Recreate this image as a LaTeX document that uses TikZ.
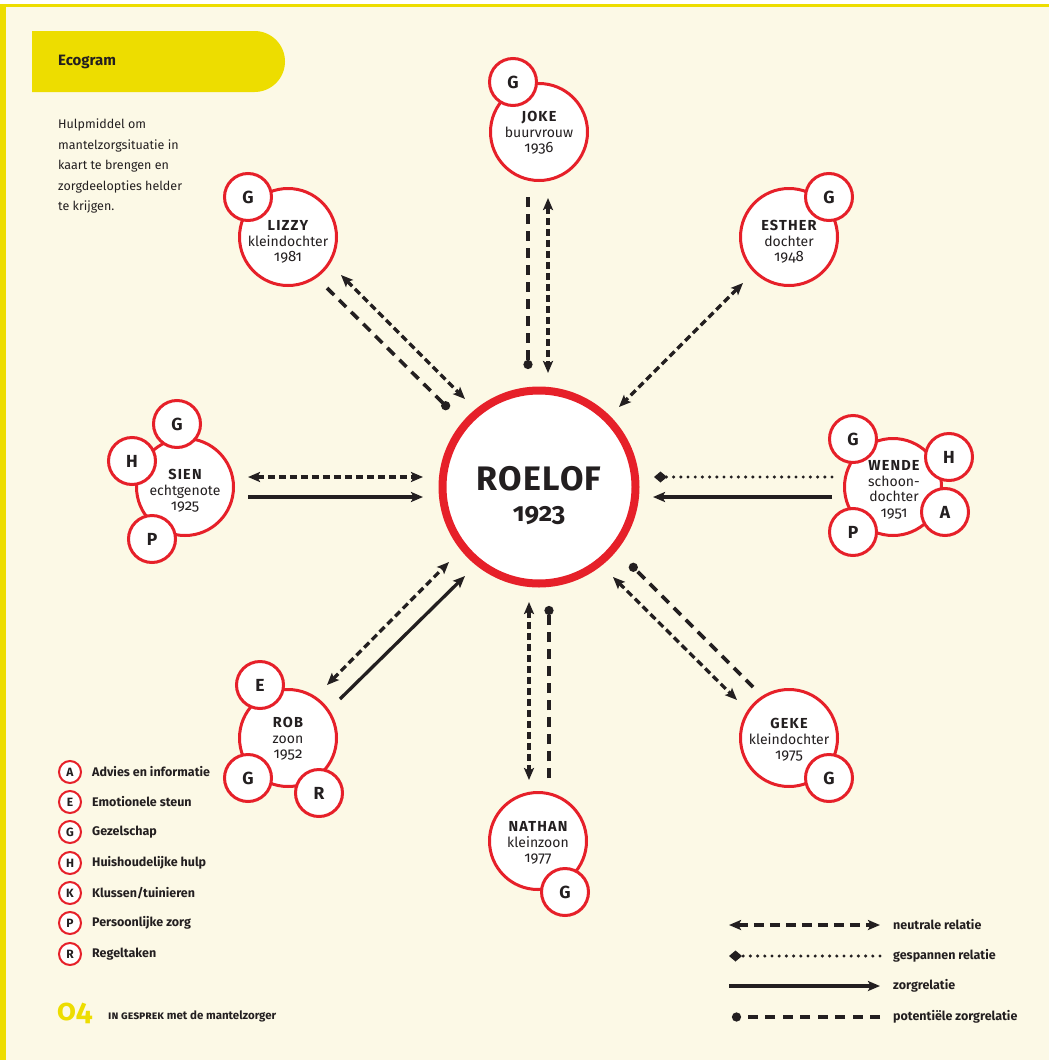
\documentclass[tikz,border=0pt]{standalone}
\usepackage{fontspec}
\setmainfont{Fira Sans}[Numbers=OldStyle]
\usetikzlibrary{arrows.meta,shapes.misc}
\definecolor{ecored}{RGB}{230,32,41}
\definecolor{ecoyel}{RGB}{237,221,0}
\definecolor{ecobg}{RGB}{252,249,230}
\definecolor{ecoink}{RGB}{35,31,32}
\tikzset{
  ntip/.tip={Stealth[length=12pt,width=10pt,inset=2.5pt]},
  dtip/.tip={Circle[length=9pt,sep=3pt]},
  rtip/.tip={Diamond[length=13pt,width=11pt]},
  person/.style={circle,draw=ecored,fill=white,line width=3pt,minimum size=97pt,inner sep=0pt},
  task/.style={circle,draw=ecored,fill=white,line width=3pt,minimum size=47pt,inner sep=0pt,
    text=ecoink,font=\fontsize{17.5}{17.5}\selectfont\bfseries},
  legtask/.style={circle,draw=ecored,fill=white,line width=2pt,minimum size=22pt,inner sep=0pt,
    text=ecoink,font=\fontsize{12}{12}\selectfont\bfseries},
  ptext/.style={align=center,text=ecoink,inner sep=0pt,font=\fontsize{14}{15.5}\selectfont},
  legtext/.style={anchor=west,text=ecoink,inner sep=0pt,font=\fontsize{12.5}{14}\selectfont\bfseries},
  neutral/.style={draw=ecoink,line width=3.3pt,dash pattern=on 7pt off 4pt,ntip-ntip},
  potential/.style={draw=ecoink,line width=3.6pt,dash pattern=on 10pt off 7pt,-dtip},
  care/.style={draw=ecoink,line width=3.3pt,-ntip},
  tense/.style={draw=ecoink,line width=3.4pt,line cap=round,dash pattern=on 0pt off 7.2pt,-rtip},
}
\newcommand{\pname}[1]{{\fontsize{14.5}{15.5}\selectfont\bfseries\addfontfeature{LetterSpace=8}#1}}
\newcommand{\pyear}[1]{{\fontsize{15}{15.5}\selectfont#1}}
\begin{document}
\begin{tikzpicture}[x=1pt,y=-1pt]
\useasboundingbox (0,0) rectangle (1049,1060);
% background and frame
\fill[ecobg] (0,0) rectangle (1049,1060);
\fill[white] (0,0) rectangle (1049,4);
\fill[ecoyel] (0,4) rectangle (1049,7.3);
\fill[ecoyel] (0,4) rectangle (6,1060);
% header
\node[rounded rectangle,rounded rectangle west arc=none,fill=ecoyel,minimum width=253pt,minimum height=61pt,inner sep=0pt] (header) at (158.5,61.5) {};
\node[anchor=west,inner sep=0pt,text=ecoink,font=\fontsize{15}{15}\selectfont\bfseries] (title) at (58,62) {Ecogram};
\node[anchor=north west,align=left,inner sep=0pt,text=ecoink,font=\fontsize{12.5}{20.5}\selectfont] (intro) at (58,119)
  {Hulpmiddel om\\mantelzorgsituatie in\\kaart te brengen en\\zorgdeelopties helder\\te krijgen.};

% centre
\node[circle,draw=ecored,fill=white,line width=8pt,minimum size=193pt,inner sep=0pt] (roelof) at (539,487) {};
\node[inner sep=0pt,text=ecoink,font=\fontsize{34}{34}\selectfont\bfseries\addfontfeature{LetterSpace=4}] (roelofname) at (539,479) {ROELOF};
\node[inner sep=0pt,text=ecoink,font=\fontsize{26}{26}\selectfont\bfseries] (roelofyear) at (539,516) {1923};

% persons
\node[person] (joke) at (539,132) {};
\node[task] (jokeG) at (513,82) {G};
\node[ptext] (joketext) at (539,133) {\pname{JOKE}\\buurvrouw\\\pyear{1936}};

\node[person] (lizzy) at (288,237) {};
\node[task] (lizzyG) at (248,197) {G};
\node[ptext] (lizzytext) at (288,242) {\pname{LIZZY}\\kleindochter\\\pyear{1981}};

\node[person] (esther) at (789,237) {};
\node[task] (estherG) at (829,197) {G};
\node[ptext] (esthertext) at (789,242) {\pname{ESTHER}\\dochter\\\pyear{1948}};

\node[person] (wende) at (893,487) {};
\node[task] (wendeG) at (853,439) {G};
\node[task] (wendeH) at (949,457) {H};
\node[task] (wendeA) at (945,512) {A};
\node[task] (wendeP) at (853,532) {P};
\node[ptext] (wendetext) at (894,490) {\pname{WENDE}\\schoon-\\dochter\\\pyear{1951}};

\node[person] (sien) at (185,487) {};
\node[task] (sienG) at (177,424) {G};
\node[task] (sienH) at (132,461) {H};
\node[task] (sienP) at (152,539) {P};
\node[ptext] (sientext) at (185,491) {\pname{SIEN}\\echtgenote\\\pyear{1925}};

\node[person] (rob) at (288,738) {};
\node[task] (robE) at (260,685) {E};
\node[task] (robG) at (248,778) {G};
\node[task] (robR) at (319,793) {R};
\node[ptext] (robtext) at (288,739) {\pname{ROB}\\zoon\\\pyear{1952}};

\node[person] (nathan) at (538,841) {};
\node[task] (nathanG) at (565,892) {G};
\node[ptext] (nathantext) at (538,843) {\pname{NATHAN}\\kleinzoon\\\pyear{1977}};

\node[person] (geke) at (789,738) {};
\node[task] (gekeG) at (829,778) {G};
\node[ptext] (geketext) at (789,740) {\pname{GEKE}\\kleindochter\\\pyear{1975}};

% connector end points
\coordinate (jokePa) at (528,197);   \coordinate (jokePb) at (528,372);
\coordinate (jokeNa) at (548,198);   \coordinate (jokeNb) at (548,373);
\coordinate (lizzyPa) at (327,288);  \coordinate (lizzyPb) at (451,411);
\coordinate (lizzyNa) at (341,275);  \coordinate (lizzyNb) at (465,399);
\coordinate (estherNa) at (743,283); \coordinate (estherNb) at (619,407);
\coordinate (wendeTa) at (832,477);  \coordinate (wendeTb) at (654,477);
\coordinate (wendeCa) at (832,497);  \coordinate (wendeCb) at (653,497);
\coordinate (sienNa) at (248,477);   \coordinate (sienNb) at (423,477);
\coordinate (sienCa) at (248,497);   \coordinate (sienCb) at (423,497);
\coordinate (robNa) at (327,685);    \coordinate (robNb) at (449,562);
\coordinate (robCa) at (340,699);    \coordinate (robCb) at (465,576);
\coordinate (nathanNa) at (529,602); \coordinate (nathanNb) at (529,780);
\coordinate (nathanPa) at (549,778); \coordinate (nathanPb) at (549,603);
\coordinate (gekePa) at (753,687);   \coordinate (gekePb) at (628,562);
\coordinate (gekeNa) at (613,577);   \coordinate (gekeNb) at (737,700);

% connectors
\draw[potential] (jokePa) -- (jokePb);
\draw[neutral] (jokeNa) -- (jokeNb);
\draw[potential] (lizzyPa) -- (lizzyPb);
\draw[neutral] (lizzyNa) -- (lizzyNb);
\draw[neutral] (estherNa) -- (estherNb);
\draw[tense] (wendeTa) -- (wendeTb);
\draw[care] (wendeCa) -- (wendeCb);
\draw[neutral] (sienNa) -- (sienNb);
\draw[care] (sienCa) -- (sienCb);
\draw[neutral] (robNa) -- (robNb);
\draw[care] (robCa) -- (robCb);
\draw[neutral] (nathanNa) -- (nathanNb);
\draw[potential] (nathanPa) -- (nathanPb);
\draw[potential] (gekePa) -- (gekePb);
\draw[neutral] (gekeNa) -- (gekeNb);

% legend left
\node[legtask] (legA) at (70,772) {A}; \node[legtext] (legAt) at (92,772) {Advies en informatie};
\node[legtask] (legE) at (70,802) {E}; \node[legtext] (legEt) at (92,802) {Emotionele steun};
\node[legtask] (legG) at (70,832) {G}; \node[legtext] (legGt) at (92,832) {Gezelschap};
\node[legtask] (legH) at (70,863) {H}; \node[legtext] (legHt) at (92,863) {Huishoudelijke hulp};
\node[legtask] (legK) at (70,893) {K}; \node[legtext] (legKt) at (92,893) {Klussen/tuinieren};
\node[legtask] (legP) at (70,923) {P}; \node[legtext] (legPt) at (92,923) {Persoonlijke zorg};
\node[legtask] (legR) at (70,954) {R}; \node[legtext] (legRt) at (92,954) {Regeltaken};

% legend right
\coordinate (l1a) at (729,925);  \coordinate (l1b) at (880,925);
\coordinate (l2a) at (729,956);  \coordinate (l2b) at (880,956);
\coordinate (l3a) at (729,986);  \coordinate (l3b) at (880,986);
\coordinate (l4a) at (729,1017); \coordinate (l4b) at (880,1017);
\draw[neutral,dash pattern=on 10pt off 6pt] (l1a) -- (l1b);
\draw[tense] (l2b) -- (l2a);
\draw[care] (l3a) -- (l3b);
\draw[potential,dash pattern=on 10pt off 7.5pt] (l4b) -- (l4a);
\node[legtext] (l1t) at (893,925) {neutrale relatie};
\node[legtext] (l2t) at (893,956) {gespannen relatie};
\node[legtext] (l3t) at (893,986) {zorgrelatie};
\node[legtext] (l4t) at (893,1017) {potentiële zorgrelatie};

% footer
\node[anchor=west,inner sep=0pt,text=ecoyel,font=\fontsize{30}{30}\selectfont\bfseries] (pagenum) at (57,1013.5) {04};
\node[anchor=base west,inner sep=0pt,text=ecoink,font=\fontsize{11.5}{12}\selectfont\bfseries] (footer) at (108,1019) {\textsc{in gesprek} met de mantelzorger};
\end{tikzpicture}
\end{document}
